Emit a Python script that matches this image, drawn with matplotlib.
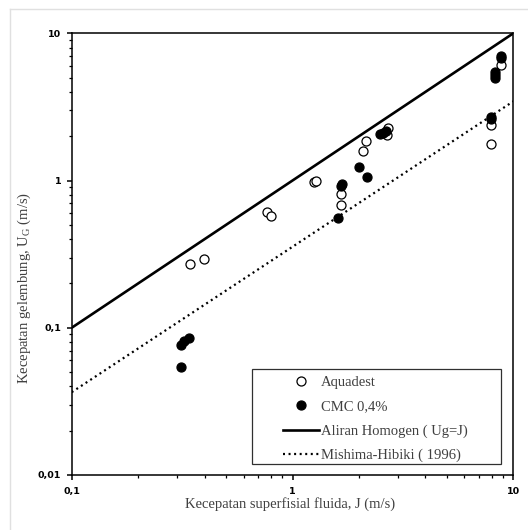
import matplotlib
matplotlib.use("Agg")
import matplotlib.pyplot as plt
from matplotlib.patches import Rectangle
from matplotlib.lines import Line2D

# data (J in m/s, U_G in m/s)
aquadest_J = [0.344, 0.397, 0.77, 0.80, 1.25, 1.28, 1.65, 1.65, 2.08, 2.15,
              2.67, 2.71, 7.9, 7.95, 8.83]
aquadest_UG = [0.272, 0.292, 0.61, 0.572, 0.98, 0.99, 0.816, 0.679, 1.59, 1.85,
               2.03, 2.26, 2.38, 1.77, 6.06]

cmc_J = [0.311, 0.313, 0.322, 0.339, 1.61, 1.66, 1.68, 2.0, 2.17, 2.49, 2.58,
         2.64, 7.9, 7.95, 8.26, 8.26, 8.26, 8.77, 8.83]
cmc_UG = [0.0545, 0.0769, 0.0807, 0.0855, 0.554, 0.915, 0.944, 1.24, 1.06, 2.06,
          2.11, 2.16, 2.60, 2.71, 4.94, 5.2, 5.48, 7.01, 6.76]

homogen_J = [0.1, 10]
homogen_UG = [0.1, 10]

mishima_J = [0.1, 10]
mishima_UG = [0.0365, 3.45]

xticks = [0.1, 1, 10]
xticklabels = ["0,1", "1", "10"]
yticks = [0.01, 0.1, 1, 10]
yticklabels = ["0,01", "0,1", "1", "10"]

legend_labels = ["Aquadest", "CMC 0,4%", "Aliran Homogen ( Ug=J)", "Mishima-Hibiki ( 1996)"]

serif = ["Liberation Serif", "DejaVu Serif"]
txt_color = "#404040"

fig = plt.figure(figsize=(5.28, 5.30), dpi=100)
ax = fig.add_axes([0.1358, 0.1038, 0.8364, 0.8334])

# garis bingkai abu-abu tipis di tepi gambar
fig.add_artist(Line2D([10 / 528, 1], [1 - 9 / 530, 1 - 9 / 530], color="#e0e0e0", lw=1))
fig.add_artist(Line2D([10 / 528, 10 / 528], [0, 1 - 9 / 530], color="#e0e0e0", lw=1))

ax.plot(homogen_J, homogen_UG, color="black", lw=1.9, solid_capstyle="butt", zorder=2)
ax.plot(mishima_J, mishima_UG, color="black", lw=1.6, linestyle=(0, (0.9, 1.6)), zorder=2)
ax.plot(aquadest_J, aquadest_UG, "o", ms=6.5, mfc="white", mec="black", mew=0.9,
        linestyle="none", zorder=3)
ax.plot(cmc_J, cmc_UG, "o", ms=6.5, mfc="black", mec="black", mew=0.9,
        linestyle="none", zorder=4)

ax.set_xscale("log")
ax.set_yscale("log")
ax.set_xlim(0.1, 10)
ax.set_ylim(0.01, 10)

ax.set_xticks(xticks)
ax.set_xticklabels(xticklabels)
ax.set_yticks(yticks)
ax.set_yticklabels(yticklabels)
ax.tick_params(which="major", direction="out", length=3.5, width=1.1)
ax.tick_params(which="minor", direction="out", length=2, width=0.9)
ax.tick_params(axis="x", which="major", pad=5)
ax.tick_params(axis="y", which="major", pad=4)
for lab in ax.get_xticklabels() + ax.get_yticklabels():
    lab.set_fontfamily("DejaVu Sans")
    lab.set_fontweight("bold")
    lab.set_fontsize(6.8)
for sp in ax.spines.values():
    sp.set_linewidth(1.1)

ax.set_xlabel("Kecepatan superfisial fluida, J (m/s)", fontsize=10.5,
              family=serif, color=txt_color)
ax.set_ylabel(r"Kecepatan gelembung, U$_\mathregular{G}$ (m/s)", fontsize=10.5,
              family=serif, color=txt_color)
ax.xaxis.set_label_coords(0.495, -0.05)
ax.yaxis.set_label_coords(-0.088, 0.424)

# kotak legenda
box = Rectangle((0.408, 0.024), 0.563, 0.215, transform=ax.transAxes,
                facecolor="white", edgecolor="#303030", lw=0.9, zorder=5)
ax.add_patch(box)

handles = [
    Line2D([], [], marker="o", ms=6.5, mfc="white", mec="black", mew=0.9, linestyle="none"),
    Line2D([], [], marker="o", ms=6.5, mfc="black", mec="black", mew=0.9, linestyle="none"),
    Line2D([], [], color="black", lw=1.9),
    Line2D([], [], color="black", lw=1.6, linestyle=(0, (0.9, 1.6))),
]
leg = ax.legend(handles, legend_labels, loc="upper left", bbox_to_anchor=(0.4785, 0.224),
                frameon=False, borderpad=0, borderaxespad=0, handlelength=2.45,
                handletextpad=0.15, labelspacing=0.75,
                prop={"family": serif, "size": 10.5})
leg.set_zorder(6)
for t in leg.get_texts():
    t.set_color(txt_color)

fig.savefig("out.png", dpi=100)
